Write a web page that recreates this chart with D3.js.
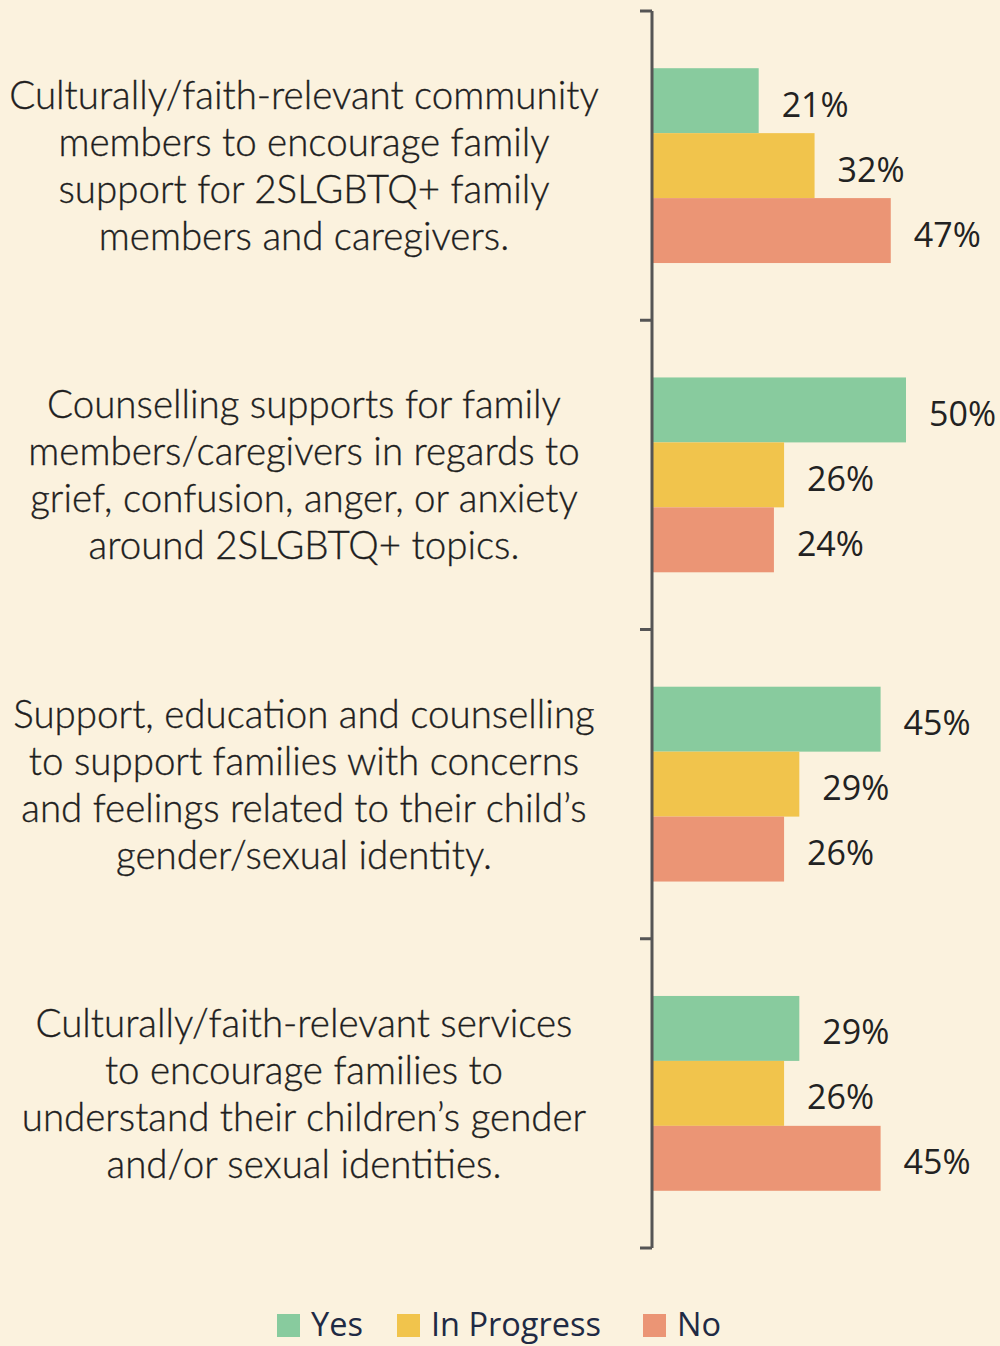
<!DOCTYPE html>
<html>
<head>
<meta charset="utf-8">
<script src="https://cdn.jsdelivr.net/npm/d3@7"></script>
<style>
  html, body { margin: 0; padding: 0; background: #fbf2de; }
  svg { display: block; }
</style>
</head>
<body>
<div id="chart"></div>
<script>
// Data
const categories = [
  ["Culturally/faith-relevant community", "members to encourage family", "support for 2SLGBTQ+ family", "members and caregivers."],
  ["Counselling supports for family", "members/caregivers in regards to", "grief, confusion, anger, or anxiety", "around 2SLGBTQ+ topics."],
  ["Support, education and counselling", "to support families with concerns", "and feelings related to their child\u2019s", "gender/sexual identity."],
  ["Culturally/faith-relevant services", "to encourage families to", "understand their children\u2019s gender", "and/or sexual identities."]
];
const seriesNames = ["Yes", "In Progress", "No"];
const yesValues = [21, 50, 45, 29];
const inProgressValues = [32, 26, 29, 26];
const noValues = [47, 24, 26, 45];
const seriesColors = ["#88cb9e", "#f1c44c", "#eb9575"];

(function(){
  const width = 1000, height = 1346;
  const svg = d3.select("#chart").append("svg")
    .attr("width", width)
    .attr("height", height);

  svg.append("rect").attr("width", width).attr("height", height).attr("fill", "#fbf2de");

  const values = [yesValues, inProgressValues, noValues];
  const rows = categories.map((c, i) => ({
    idx: i,
    lines: c,
    vals: seriesNames.map((s, k) => ({ key: s, value: values[k][i] }))
  }));

  const axisX = 652;
  const x = d3.scaleLinear().domain([0, 50]).range([axisX, 906]);

  const y0 = d3.scaleBand()
    .domain(rows.map(d => d.idx))
    .range([11, 1248])
    .paddingInner(0.37)
    .paddingOuter(0.185);

  const y1 = d3.scaleBand()
    .domain(seriesNames)
    .range([0, y0.bandwidth()]);

  const color = d3.scaleOrdinal().domain(seriesNames).range(seriesColors);

  const groups = svg.selectAll("g.group")
    .data(rows)
    .join("g")
    .attr("class", "group")
    .attr("transform", d => `translate(0, ${y0(d.idx)})`);

  groups.selectAll("rect")
    .data(d => d.vals)
    .join("rect")
    .attr("x", x(0))
    .attr("y", d => y1(d.key))
    .attr("width", d => x(d.value) - x(0))
    .attr("height", y1.bandwidth())
    .attr("fill", d => color(d.key));

  groups.selectAll("text.val")
    .data(d => d.vals)
    .join("text")
    .attr("class", "val")
    .attr("x", d => x(d.value) + 23)
    .attr("y", d => y1(d.key) + y1.bandwidth() / 2 + 16)
    .style("font-family", "'Open Sans', sans-serif")
    .style("font-size", "34px")
    .style("fill", "#222")
    .text(d => d.value + "%");

  // Category labels
  const lineH = 47;
  groups.append("text")
    .attr("class", "cat")
    .attr("text-anchor", "middle")
    .style("font-family", "Lato, sans-serif")
    .style("font-weight", "300")
    .style("font-size", "38.5px")
    .style("fill", "#1e1e1e")
    .style("stroke", "#1e1e1e")
    .style("stroke-width", "0.35px")
    .selectAll("tspan")
    .data(d => d.lines)
    .join("tspan")
    .attr("x", 304)
    .attr("y", (d, i) => y0.bandwidth() / 2 + 14 + (i - 1.5) * lineH)
    .text(d => d);

  // Axis with ticks at band boundaries
  const axis = svg.append("g").attr("stroke", "#555").attr("stroke-width", 3);
  axis.append("line")
    .attr("x1", axisX).attr("x2", axisX)
    .attr("y1", y0.range()[0]).attr("y2", y0.range()[1]);
  const tickYs = d3.range(rows.length + 1).map(i => y0.range()[0] + i * y0.step());
  axis.selectAll("line.tick")
    .data(tickYs)
    .join("line")
    .attr("class", "tick")
    .attr("x1", axisX - 12).attr("x2", axisX)
    .attr("y1", d => d).attr("y2", d => d);

  // Legend
  const legendItems = [
    { key: "Yes", x: 277 },
    { key: "In Progress", x: 397 },
    { key: "No", x: 643 }
  ];
  const legend = svg.append("g");
  const li = legend.selectAll("g")
    .data(legendItems)
    .join("g")
    .attr("transform", d => `translate(${d.x}, 1314)`);
  li.append("rect")
    .attr("width", 23).attr("height", 23)
    .attr("fill", d => color(d.key));
  li.append("text")
    .attr("x", 34)
    .attr("y", 22)
    .style("font-family", "'Open Sans', sans-serif")
    .style("font-size", "32.5px")
    .style("fill", "#1f2a44")
    .text(d => d.key);
})();
</script>
</body>
</html>
